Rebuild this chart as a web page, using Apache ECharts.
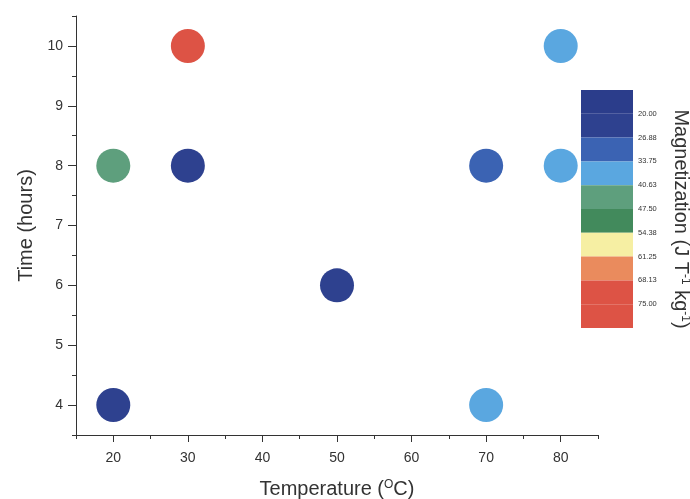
<!DOCTYPE html>
<html>
<head>
<meta charset="utf-8">
<script src="https://cdn.jsdelivr.net/npm/echarts@6/dist/echarts.min.js"></script>
<style>
  html, body { margin: 0; padding: 0; background: #fff; }
  #chart { width: 690px; height: 499px; }
</style>
</head>
<body>
<div id="chart"></div>
<script>
// Samples: temperature (°C), time (hours), magnetization (J T^-1 kg^-1)
const temperature   = [20, 20, 30, 30, 50, 70, 70, 80, 80];
const timeHours     = [4, 8, 8, 10, 6, 8, 4, 8, 10];
const magnetization = [20.5, 44, 22, 75, 22.5, 30, 36, 37, 38];

// Axis ticks
const xTicks = [20, 30, 40, 50, 60, 70, 80];
const xMinorTicks = [15, 25, 35, 45, 55, 65, 75, 85];
const yTicks = [4, 5, 6, 7, 8, 9, 10];
const yMinorTicks = [3.5, 4.5, 5.5, 6.5, 7.5, 8.5, 9.5, 10.5];

// Colour scale levels and band colours (below first level, between levels, above last level)
const colorLevels = [20.00, 26.88, 33.75, 40.63, 47.50, 54.38, 61.25, 68.13, 75.00];
const bandColors = ['#2b3d8b', '#2e418f', '#3b63b3', '#5aa7e0', '#5e9f7d', '#428a5c',
                    '#f6efa3', '#ea8b5d', '#dd5345', '#dd5345'];
const colorbarMin = 13.13;
const colorbarMax = 81.88;

const FONT = 'Liberation Sans, Arial, sans-serif';
const TXT = '#333';
const axisLineStyle = { color: '#333', width: 1 };

const points = temperature.map((t, i) => [t, timeHours[i], magnetization[i]]);

// visualMap pieces from the levels
const pieces = [{ lt: colorLevels[0], color: bandColors[0] }];
for (let i = 0; i < colorLevels.length - 1; i++) {
  pieces.push({ gte: colorLevels[i], lt: colorLevels[i + 1], color: bandColors[i + 1] });
}
pieces.push({ gte: colorLevels[colorLevels.length - 1], color: bandColors[bandColors.length - 1] });

// Colour bar built as stacked segments between consecutive bounds
const bounds = [colorbarMin].concat(colorLevels, [colorbarMax]);
const colorbarSeries = [{
  type: 'bar', xAxisIndex: 2, yAxisIndex: 2, stack: 'cb', barWidth: '100%',
  data: [colorbarMin], itemStyle: { color: 'transparent' }, silent: true
}];
for (let i = 0; i < bounds.length - 1; i++) {
  colorbarSeries.push({
    type: 'bar', xAxisIndex: 2, yAxisIndex: 2, stack: 'cb', barWidth: '100%',
    data: [bounds[i + 1] - bounds[i]], itemStyle: { color: bandColors[i] }, silent: true
  });
}

const supRich = {
  sup: { fontSize: 12, verticalAlign: 'top', fontFamily: FONT, color: TXT }
};

const chart = echarts.init(document.getElementById('chart'), null, { renderer: 'canvas' });
chart.setOption({
  animation: false,
  backgroundColor: '#fff',
  textStyle: { fontFamily: FONT, color: TXT },
  grid: [
    { left: 76, right: 92, top: 16, bottom: 64, outerBoundsMode: 'none', containLabel: false },
    { left: 581, width: 52, top: 90, height: 238, outerBoundsMode: 'none', containLabel: false }
  ],
  xAxis: [
    {
      gridIndex: 0, type: 'value', min: 15, max: 85, position: 'bottom',
      axisLine: { show: true, lineStyle: axisLineStyle },
      axisTick: { show: true, customValues: xTicks, length: 7, lineStyle: axisLineStyle },
      axisLabel: { customValues: xTicks, fontSize: 14, color: TXT, margin: 16, fontFamily: FONT },
      splitLine: { show: false },
      name: 'Temperature ({sup|O}C)', nameLocation: 'middle', nameGap: 44,
      nameTextStyle: { fontSize: 20, color: TXT, fontFamily: FONT, rich: supRich }
    },
    {
      gridIndex: 0, type: 'value', min: 15, max: 85, position: 'bottom',
      axisLine: { show: false },
      axisTick: { show: true, customValues: xMinorTicks, length: 4, lineStyle: axisLineStyle },
      axisLabel: { show: false }, splitLine: { show: false }
    },
    { gridIndex: 1, type: 'category', data: [''], show: false }
  ],
  yAxis: [
    {
      gridIndex: 0, type: 'value', min: 3.5, max: 10.5, position: 'left',
      axisLine: { show: true, lineStyle: axisLineStyle },
      axisTick: { show: true, customValues: yTicks, length: 8, lineStyle: axisLineStyle },
      axisLabel: { customValues: yTicks, fontSize: 14, color: TXT, margin: 13, fontFamily: FONT },
      splitLine: { show: false },
      name: 'Time (hours)', nameLocation: 'middle', nameGap: 39,
      nameTextStyle: { fontSize: 20, color: TXT, fontFamily: FONT }
    },
    {
      gridIndex: 0, type: 'value', min: 3.5, max: 10.5, position: 'left',
      axisLine: { show: false },
      axisTick: { show: true, customValues: yMinorTicks, length: 4, lineStyle: axisLineStyle },
      axisLabel: { show: false }, splitLine: { show: false }
    },
    {
      gridIndex: 1, type: 'value', min: colorbarMin, max: colorbarMax, inverse: true, position: 'right',
      axisLine: { show: false }, axisTick: { show: false }, splitLine: { show: false },
      axisLabel: {
        customValues: colorLevels, fontSize: 7.5, color: TXT, margin: 5, fontFamily: FONT,
        formatter: v => v.toFixed(2)
      },
      name: 'Magnetization (J T{sup|-1} kg{sup|-1})', nameLocation: 'middle', nameRotate: -90, nameGap: 38,
      nameTextStyle: { fontSize: 20, color: TXT, fontFamily: FONT, rich: supRich, padding: [0, 0, 0, 20] }
    }
  ],
  visualMap: {
    type: 'piecewise', show: false, seriesIndex: 0, dimension: 2, pieces: pieces
  },
  series: [
    {
      type: 'scatter', xAxisIndex: 0, yAxisIndex: 0, symbol: 'circle', symbolSize: 34,
      data: points, itemStyle: { opacity: 1 }
    }
  ].concat(colorbarSeries)
});
</script>
</body>
</html>
